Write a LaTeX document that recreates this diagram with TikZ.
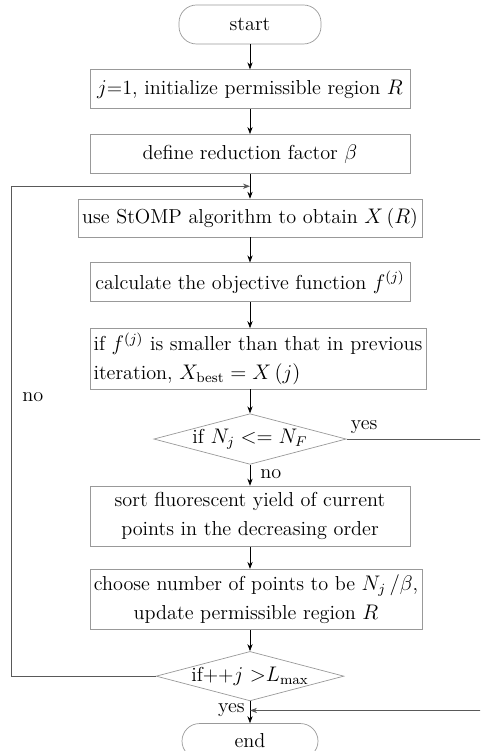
\documentclass[tikz,border=0pt]{standalone}
\usepackage{amsmath}
\usepackage{tikz}
\usetikzlibrary{
  shapes.geometric,
  arrows.meta,
  positioning,
  calc
}

\begin{document}
\begin{tikzpicture}[
  font=\fontsize{11.5}{16.5}\selectfont,
  node distance=0.5cm,
  %% Start / end capsule (1-arg: width)
  term/.style={
    rounded corners=0.35cm,
    draw=black!40,
    minimum width=#1,
    minimum height=0.78cm,
    inner sep=0pt
  },
  %% Process box (1-arg: width)
  proc/.style={
    draw=black!40,
    minimum width=#1,
    minimum height=0.78cm,
    inner sep=2pt,
    align=center
  },
  proc/.default=6.4cm,
  twoline/.style={minimum height=1.21cm},
  %% Decision diamond
  cond/.style={
    diamond,
    draw=black!40,
    aspect=3.8,
    minimum width=3.72cm,
    minimum height=0.98cm,
    inner sep=0pt
  },
  lbl/.style={inner sep=0pt, text=black},
  arr/.style={-{Stealth[length=4pt,width=3pt]}, thin, #1},
  arr/.default=black
]

%% ---- Frame (page = 480 x 751 px) ----
\useasboundingbox (0,0) rectangle (9.6,-15.02);
\clip (0,0) rectangle (9.6,-15.02);

%% ---- Main column ----
\node[term=2.84cm] (start) at (5.0,-0.49) {start};

\node[proc, below=of start] (init)
  {$j$=1, initialize permissible region $R$};

\node[proc, below=of init] (beta)
  {define reduction factor $\beta$};

\node[proc=6.88cm, minimum height=0.76cm, below=of beta] (stomp)
  {use StOMP algorithm to obtain $X$\,($R$)};

\node[proc, below=of stomp] (obj)
  {calculate the objective function $f^{(j)}$};

\node[proc=6.7cm, twoline, align=left,
      below right=0.52cm and 0cm of obj.south west] (best)
  {if $f^{(j)}$ is smaller than that in previous\\
   iteration, $X_{\text{best}} = X\,(j)$};
\coordinate (s5) at (best.south -| obj.south);

\node[cond, below=0.48cm of s5] (chk)
  {if $N_j <= N_F$};

\node[proc, twoline, below=0.42cm of chk] (sort)
  {sort fluorescent yield of current\\
   points in the decreasing order};

\node[proc=6.64cm, twoline,
      below right=0.44cm and 0cm of sort.south west] (upd)
  {choose number of points to be $N_j\,/\beta$,\\
   update permissible region $R$};
\coordinate (s7) at (upd.south -| sort.south);

\node[cond, below=0.42cm of s7] (iter)
  {if++$j$ $>$$L_{\max}$};

\node[term=2.72cm, minimum height=0.7cm, below=0.44cm of iter] (end) {end};

%% ---- Vertical flow arrows ----
\draw[arr] (start) -- (init);
\draw[arr] (init)  -- (beta);
\draw[arr] (beta)  -- (stomp);
\draw[arr] (stomp) -- (obj);
\draw[arr] (obj.south) -- (obj.south |- best.north);
\draw[arr] (s5) -- (chk.north);
\draw[arr] (chk.south) -- (sort.north)
  node[lbl, below right=0.08cm and 0.2cm of chk.south] {no};
\draw[arr] (sort.south) -- (sort.south |- upd.north);
\draw[arr] (s7) -- (iter.north);
\draw[arr] (iter.south) -- (end.north)
  node[lbl, below left=0.04cm and 0.1cm of iter.south] {yes};

%% ---- Loop back (left) ----
\coordinate (join1) at ($(beta.south)!0.5!(stomp.north)$);
\coordinate (loopL) at ($(join1)-(4.78,0)$);
\draw[arr=black!65] (iter.west) -| (loopL)
  node[lbl, pos=0.785, right=0.22cm] {no}
  -- (join1);

%% ---- Exit (right) ----
\coordinate (join2) at ($(iter.south)!0.42!(end.north)$);
\coordinate (rightE) at ($(chk.east)+(2.8,0)$);
\node[lbl, above right=0.1cm and 0.08cm of chk.east] {yes};
\draw[arr=black!65] (chk.east) -- (rightE) |- (join2);

\end{tikzpicture}
\end{document}
